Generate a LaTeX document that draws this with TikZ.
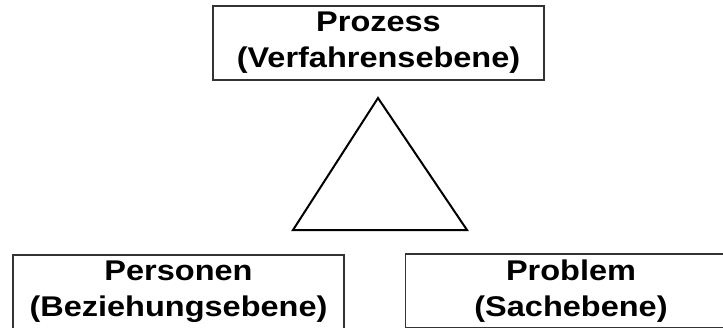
\documentclass[tikz,border=0pt]{standalone}
\usepackage{fontspec}
\setmainfont{Liberation Sans}[FakeStretch=1.14]
\usetikzlibrary{positioning}
\tikzset{
  levelbox/.style={draw=black!80, line width=1.3pt, minimum width=331pt, minimum height=74pt,
    inner sep=0pt, align=center, font=\fontsize{28.5}{36}\selectfont\bfseries},
  triline/.style={line width=2pt, line join=miter}
}
\begin{document}
\begin{tikzpicture}[x=1pt,y=-1pt]
			%%%%% frame %%%%%
			\useasboundingbox (0,0) rectangle (723,327);
			\clip (0,0) rectangle (723,327);
			
			%%%%% boxes %%%%%
			\node[levelbox] (prozess) at (378.5,43) {Prozess\\(Verfahrensebene)};
			\node[levelbox] (personen) at (178.5,292) {Personen\\(Beziehungsebene)};
			\node[levelbox] (problem) at (571,291) {Problem\\(Sachebene)};
			
			%%%%% triangle %%%%%
			\coordinate (apex) at (378,98);
			\coordinate (left) at (293,230);
			\coordinate (right) at (467,230);
			\draw[triline] (apex) -- (left) -- (right) -- cycle;
\end{tikzpicture}
\end{document}
